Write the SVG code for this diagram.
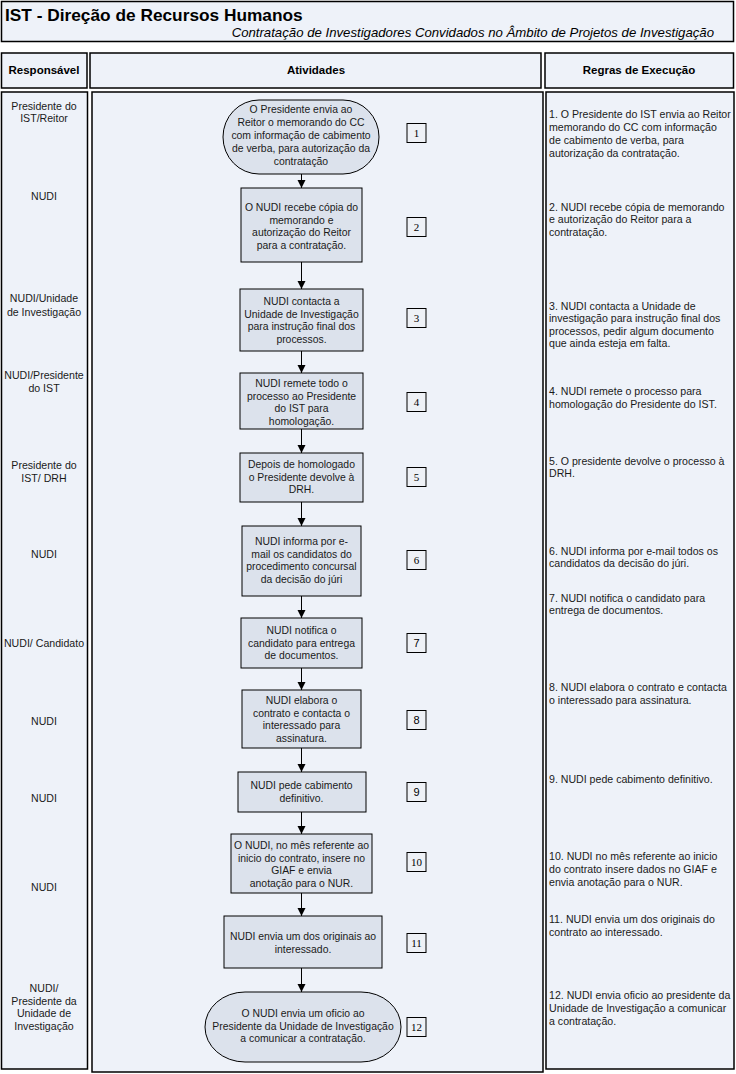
<svg xmlns="http://www.w3.org/2000/svg" width="736" height="1074" viewBox="0 0 736 1074">
<defs>
<marker id="ah" markerUnits="userSpaceOnUse" markerWidth="8" markerHeight="9" refX="8" refY="4" orient="auto">
<path d="M0,0 L8,4 L0,8 z" fill="#000"/>
</marker>
<style>
.panel{fill:#EEF2F9;stroke:#000;stroke-width:1.5}
.node{fill:#DCE2EC;stroke:#000;stroke-width:1}
.num{fill:#EEF1F6;stroke:#000;stroke-width:1}
.t{font-family:"Liberation Sans",Arial,sans-serif;font-size:10.6px;fill:#1a1a1a}
.nt{font-family:"Liberation Sans",Arial,sans-serif;font-size:10.4px;fill:#1a1a1a;text-anchor:middle}
.c{text-anchor:middle}
.h{font-family:"Liberation Sans",Arial,sans-serif;font-size:11.5px;font-weight:bold;fill:#000;text-anchor:middle}
.ns{font-family:"Liberation Serif","Times New Roman",serif;font-size:11px;fill:#000;text-anchor:middle}
.nn{font-family:"Liberation Sans",Arial,sans-serif;font-size:11px;fill:#000;text-anchor:middle}
.conn{stroke:#000;stroke-width:1;fill:none;marker-end:url(#ah)}
</style>
</defs>
<rect width="736" height="1074" fill="#fff"/>

<g id="header">
<rect class="panel" x="1.5" y="1.5" width="732" height="40"/>
<text x="5" y="21" font-family="'Liberation Sans',Arial,sans-serif" font-size="17.3" font-weight="bold" fill="#000">IST - Direção de Recursos Humanos</text>
<text x="714" y="37" font-family="'Liberation Sans',Arial,sans-serif" font-size="13.2" font-style="italic" fill="#000" text-anchor="end">Contratação de Investigadores Convidados no Âmbito de Projetos de Investigação</text>
</g>

<g id="col-headers">
<rect class="panel" x="1.5" y="53" width="85.5" height="35"/>
<rect class="panel" x="90" y="53" width="451" height="35"/>
<rect class="panel" x="545" y="53" width="188.5" height="35"/>
<text class="h" x="44" y="74">Responsável</text>
<text class="h" x="316" y="74">Atividades</text>
<text class="h" x="639" y="74">Regras de Execução</text>
</g>

<g id="panels">
<rect class="panel" x="1.5" y="92" width="86" height="977"/>
<rect class="panel" x="92" y="92" width="451" height="980"/>
<rect class="panel" x="546" y="92" width="188" height="977"/>
</g>

<g id="responsaveis" class="t c">
<text x="44" y="110">Presidente do</text>
<text x="44" y="122">IST/Reitor</text>
<text x="44" y="200">NUDI</text>
<text x="44" y="302">NUDI/Unidade</text>
<text x="44" y="316">de Investigação</text>
<text x="44" y="379">NUDI/Presidente</text>
<text x="44" y="392">do IST</text>
<text x="44" y="469">Presidente do</text>
<text x="44" y="482">IST/ DRH</text>
<text x="44" y="558">NUDI</text>
<text x="44" y="647">NUDI/ Candidato</text>
<text x="44" y="725">NUDI</text>
<text x="44" y="802">NUDI</text>
<text x="44" y="891">NUDI</text>
<text x="44" y="992">NUDI/</text>
<text x="44" y="1005">Presidente da</text>
<text x="44" y="1017">Unidade de</text>
<text x="44" y="1030">Investigação</text>
</g>

<g id="connectors">
<line class="conn" x1="301.5" y1="174" x2="301.5" y2="188"/>
<line class="conn" x1="301.5" y1="262" x2="301.5" y2="289"/>
<line class="conn" x1="301.5" y1="351" x2="301.5" y2="373"/>
<line class="conn" x1="301.5" y1="429" x2="301.5" y2="453"/>
<line class="conn" x1="301.5" y1="502" x2="301.5" y2="526"/>
<line class="conn" x1="301.5" y1="596" x2="301.5" y2="618"/>
<line class="conn" x1="301.5" y1="668" x2="301.5" y2="690"/>
<line class="conn" x1="301.5" y1="748" x2="301.5" y2="772"/>
<line class="conn" x1="301.5" y1="812" x2="301.5" y2="834"/>
<line class="conn" x1="301.5" y1="893" x2="301.5" y2="916"/>
<line class="conn" x1="301.5" y1="968" x2="301.5" y2="992"/>
</g>

<g id="n1">
<rect class="node" x="223" y="100" width="156" height="74" rx="36" ry="37"/>
<text class="nt" x="301" y="113">O Presidente envia ao</text>
<text class="nt" x="301" y="126">Reitor o memorando do CC</text>
<text class="nt" x="301" y="139">com informação de cabimento</text>
<text class="nt" x="301" y="152">de verba, para autorização da</text>
<text class="nt" x="301" y="165">contratação</text>
<rect class="num" x="407" y="123.5" width="19" height="19"/>
<text class="ns" x="416.5" y="137">1</text>
</g>

<g id="n2">
<rect class="node" x="241" y="188" width="121" height="74"/>
<text class="nt" x="301.5" y="211">O NUDI recebe cópia do</text>
<text class="nt" x="301.5" y="223.5">memorando e</text>
<text class="nt" x="301.5" y="236">autorização do Reitor</text>
<text class="nt" x="301.5" y="248.5">para a contratação.</text>
<rect class="num" x="407" y="217.5" width="19" height="19"/>
<text class="ns" x="416.5" y="231">2</text>
</g>

<g id="n3">
<rect class="node" x="240" y="289" width="123" height="62"/>
<text class="nt" x="301.5" y="305">NUDI contacta a</text>
<text class="nt" x="301.5" y="317.5">Unidade de Investigação</text>
<text class="nt" x="301.5" y="330">para instrução final dos</text>
<text class="nt" x="301.5" y="342.5">processos.</text>
<rect class="num" x="407" y="308.5" width="19" height="19"/>
<text class="ns" x="416.5" y="322">3</text>
</g>

<g id="n4">
<rect class="node" x="240" y="373" width="123" height="56"/>
<text class="nt" x="301.5" y="387">NUDI remete todo o</text>
<text class="nt" x="301.5" y="399.5">processo ao Presidente</text>
<text class="nt" x="301.5" y="412">do IST para</text>
<text class="nt" x="301.5" y="424.5">homologação.</text>
<rect class="num" x="407" y="392.5" width="19" height="19"/>
<text class="ns" x="416.5" y="406">4</text>
</g>

<g id="n5">
<rect class="node" x="240" y="453" width="123" height="49"/>
<text class="nt" x="301.5" y="468">Depois de homologado</text>
<text class="nt" x="301.5" y="480.5">o Presidente devolve à</text>
<text class="nt" x="301.5" y="493">DRH.</text>
<rect class="num" x="407" y="467.5" width="19" height="19"/>
<text class="ns" x="416.5" y="481">5</text>
</g>

<g id="n6">
<rect class="node" x="242" y="526" width="119" height="70"/>
<text class="nt" x="301.5" y="545">NUDI informa por e-</text>
<text class="nt" x="301.5" y="557.5">mail os candidatos do</text>
<text class="nt" x="301.5" y="570">procedimento concursal</text>
<text class="nt" x="301.5" y="582.5">da decisão do júri</text>
<rect class="num" x="407" y="550.5" width="19" height="19"/>
<text class="ns" x="416.5" y="564">6</text>
</g>

<g id="n7">
<rect class="node" x="241" y="618" width="121" height="50"/>
<text class="nt" x="301.5" y="634">NUDI notifica o</text>
<text class="nt" x="301.5" y="646.5">candidato para entrega</text>
<text class="nt" x="301.5" y="659">de documentos.</text>
<rect class="num" x="407" y="633.5" width="19" height="19"/>
<text class="nn" x="416.5" y="647">7</text>
</g>

<g id="n8">
<rect class="node" x="242" y="690" width="119" height="58"/>
<text class="nt" x="301.5" y="704">NUDI elabora o</text>
<text class="nt" x="301.5" y="716.5">contrato e contacta o</text>
<text class="nt" x="301.5" y="729">interessado para</text>
<text class="nt" x="301.5" y="741.5">assinatura.</text>
<rect class="num" x="407" y="710.5" width="19" height="19"/>
<text class="nn" x="416.5" y="724">8</text>
</g>

<g id="n9">
<rect class="node" x="238" y="772" width="128" height="40"/>
<text class="nt" x="301.5" y="789">NUDI pede cabimento</text>
<text class="nt" x="301.5" y="801.5">definitivo.</text>
<rect class="num" x="407" y="782.5" width="19" height="19"/>
<text class="nn" x="416.5" y="796">9</text>
</g>

<g id="n10">
<rect class="node" x="231" y="834" width="141" height="59"/>
<text class="nt" x="301.5" y="849">O NUDI, no mês referente ao</text>
<text class="nt" x="301.5" y="861.5">inicio do contrato, insere no</text>
<text class="nt" x="301.5" y="874">GIAF e envia</text>
<text class="nt" x="301.5" y="886.5">anotação para o NUR.</text>
<rect class="num" x="407" y="852.5" width="19" height="19"/>
<text class="ns" x="416.5" y="866">10</text>
</g>

<g id="n11">
<rect class="node" x="224" y="916" width="158" height="52"/>
<text class="nt" x="303" y="940">NUDI envia um dos originais ao</text>
<text class="nt" x="303" y="952.5">interessado.</text>
<rect class="num" x="407" y="933.5" width="19" height="19"/>
<text class="ns" x="416.5" y="947">11</text>
</g>

<g id="n12">
<rect class="node" x="205" y="992" width="196" height="70" rx="40" ry="35"/>
<text class="nt" x="303" y="1017">O NUDI envia um oficio ao</text>
<text class="nt" x="303" y="1029.5">Presidente da Unidade de Investigação</text>
<text class="nt" x="303" y="1042">a comunicar a contratação.</text>
<rect class="num" x="407" y="1017.5" width="19" height="19"/>
<text class="ns" x="416.5" y="1031">12</text>
</g>

<g id="regras" class="t">
<text x="549" y="118">1. O Presidente do IST envia ao Reitor</text>
<text x="549" y="131">memorando do CC com informação</text>
<text x="549" y="144">de cabimento de verba, para</text>
<text x="549" y="157">autorização da contratação.</text>
<text x="549" y="211">2. NUDI recebe cópia de memorando</text>
<text x="549" y="223">e autorização do Reitor para a</text>
<text x="549" y="236">contratação.</text>
<text x="549" y="310">3. NUDI contacta a Unidade de</text>
<text x="549" y="322">investigação para instrução final dos</text>
<text x="549" y="335">processos, pedir algum documento</text>
<text x="549" y="347">que ainda esteja em falta.</text>
<text x="549" y="395">4. NUDI remete o processo para</text>
<text x="549" y="408">homologação do Presidente do IST.</text>
<text x="549" y="465">5. O presidente devolve o processo à</text>
<text x="549" y="477">DRH.</text>
<text x="549" y="555">6. NUDI informa por e-mail todos os</text>
<text x="549" y="567">candidatos da decisão do júri.</text>
<text x="549" y="602">7. NUDI notifica o candidato para</text>
<text x="549" y="614">entrega de documentos.</text>
<text x="549" y="691">8. NUDI elabora o contrato e contacta</text>
<text x="549" y="704">o interessado para assinatura.</text>
<text x="549" y="783">9. NUDI pede cabimento definitivo.</text>
<text x="549" y="860">10. NUDI no mês referente ao inicio</text>
<text x="549" y="873">do contrato insere dados no GIAF e</text>
<text x="549" y="886">envia anotação para o NUR.</text>
<text x="549" y="923">11. NUDI envia um dos originais do</text>
<text x="549" y="936">contrato ao interessado.</text>
<text x="549" y="999">12. NUDI envia oficio ao presidente da</text>
<text x="549" y="1012">Unidade de Investigação a comunicar</text>
<text x="549" y="1025">a contratação.</text>
</g>
</svg>
